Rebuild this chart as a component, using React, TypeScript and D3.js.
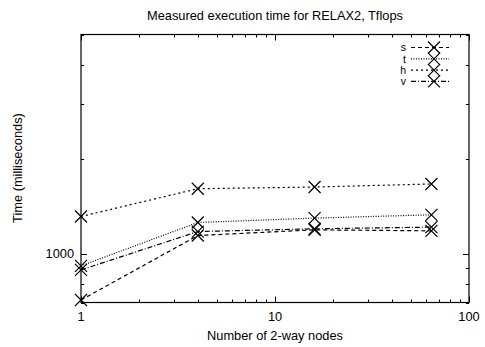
import React, { useEffect, useRef } from 'react';
import * as d3 from 'd3';

const nodes = [1, 4, 16, 64];
const seriesNames = ['s', 't', 'h', 'v'];
const sValues = [713, 1144, 1193, 1184];
const tValues = [916, 1259, 1300, 1332];
const hValues = [1316, 1613, 1633, 1670];
const vValues = [889, 1178, 1202, 1217];
const yTickLabels = [1000];
const yMinorTicks = [700, 800, 900, 2000, 3000, 4000, 5000];
const xTickLabels = [1, 10, 100];

const W = 485;
const H = 347;

const App = () => {
  const svgRef = useRef<SVGSVGElement>(null);

  useEffect(() => {
    const svg = d3.select(svgRef.current);
    svg.selectAll('*').remove();

    const left = 81, right = 469, top = 34.5, bottom = 302.5;
    const font = 'Liberation Sans, Arial, sans-serif';
    const fs = '12.8px';

    const x = d3.scaleLog().domain([1, 100]).range([left, right]);
    const y = d3.scaleLog().domain([700, 5000]).range([bottom, top]);

    const dashes = ['4,3', '1,1.5', '2,3', '5,2,1,2'];
    const data = [sValues, tValues, hValues, vValues];

    // ticks
    const xMinor: number[] = [];
    [1, 10].forEach(d => { for (let i = 2; i <= 9; i++) xMinor.push(d * i); });
    const g = svg.append('g').attr('stroke', '#000').attr('stroke-width', 1);
    xMinor.forEach(v => {
      const px = Math.round(x(v)) + 0.5;
      g.append('line').attr('x1', px).attr('x2', px).attr('y1', bottom).attr('y2', bottom - 3);
      g.append('line').attr('x1', px).attr('x2', px).attr('y1', top).attr('y2', top + 3);
    });
    xTickLabels.forEach(v => {
      const px = Math.round(x(v)) + 0.5;
      g.append('line').attr('x1', px).attr('x2', px).attr('y1', bottom).attr('y2', bottom - 6);
      g.append('line').attr('x1', px).attr('x2', px).attr('y1', top).attr('y2', top + 6);
    });
    yMinorTicks.forEach(v => {
      const py = Math.round(y(v)) + 0.5;
      g.append('line').attr('x1', left).attr('x2', left + 3).attr('y1', py).attr('y2', py);
      g.append('line').attr('x1', right).attr('x2', right - 3).attr('y1', py).attr('y2', py);
    });
    yTickLabels.forEach(v => {
      const py = Math.round(y(v)) + 0.5;
      g.append('line').attr('x1', left).attr('x2', left + 6).attr('y1', py).attr('y2', py);
      g.append('line').attr('x1', right).attr('x2', right - 6).attr('y1', py).attr('y2', py);
    });

    // frame
    svg.append('rect')
      .attr('x', left).attr('y', top)
      .attr('width', right - left).attr('height', bottom - top)
      .attr('fill', 'none').attr('stroke', '#000').attr('stroke-width', 1.2);

    // tick labels
    svg.selectAll('.xl').data(xTickLabels).enter().append('text')
      .attr('x', d => x(d)).attr('y', bottom + 18)
      .attr('text-anchor', 'middle').attr('fill', '#000')
      .style('font-family', font).style('font-size', fs)
      .text(d => d);
    svg.selectAll('.yl').data(yTickLabels).enter().append('text')
      .attr('x', left - 7).attr('y', d => y(d) + 4.5)
      .attr('text-anchor', 'end').attr('fill', '#000')
      .style('font-family', font).style('font-size', fs)
      .text(d => d);

    const line = d3.line<number>()
      .x((_, i) => x(nodes[i]))
      .y(d => y(d));

    const cross = (sel: any, cx: number, cy: number) => {
      const r = 6;
      sel.append('path')
        .attr('d', `M${cx - r},${cy - r}L${cx + r},${cy + r}M${cx - r},${cy + r}L${cx + r},${cy - r}`)
        .attr('stroke', '#000').attr('stroke-width', 1.2).attr('fill', 'none');
    };

    const plot = svg.append('g');
    data.forEach((vals, k) => {
      plot.append('path').datum(vals)
        .attr('d', line)
        .attr('fill', 'none').attr('stroke', '#000').attr('stroke-width', 1.2)
        .attr('stroke-dasharray', dashes[k]);
      vals.forEach((v, i) => cross(plot, x(nodes[i]), y(v)));
    });

    // legend
    const legend = svg.append('g');
    seriesNames.forEach((name, k) => {
      const ly = 47.5 + k * 11.3;
      legend.append('text')
        .attr('x', 406).attr('y', ly + 3.8)
        .attr('text-anchor', 'end').attr('fill', '#000')
        .style('font-family', font).style('font-size', '10.5px')
        .text(name);
      legend.append('line')
        .attr('x1', 411).attr('x2', 449).attr('y1', ly).attr('y2', ly)
        .attr('stroke', '#000').attr('stroke-width', 1.2)
        .attr('stroke-dasharray', dashes[k]);
      cross(legend, 434, ly);
    });

    // titles
    svg.append('text')
      .attr('x', 275).attr('y', 20)
      .attr('text-anchor', 'middle').attr('fill', '#000')
      .style('font-family', font).style('font-size', fs)
      .text('Measured execution time for RELAX2, Tflops');
    svg.append('text')
      .attr('x', 275).attr('y', 340)
      .attr('text-anchor', 'middle').attr('fill', '#000')
      .style('font-family', font).style('font-size', fs)
      .text('Number of 2-way nodes');
    svg.append('text')
      .attr('transform', `translate(22,168) rotate(-90)`)
      .attr('text-anchor', 'middle').attr('fill', '#000')
      .style('font-family', font).style('font-size', fs)
      .text('Time (milliseconds)');
  }, []);

  return (
    <svg
      ref={svgRef}
      width={W}
      height={H}
      style={{ position: 'absolute', left: 0, top: 0, background: '#fff' }}
    />
  );
};

export default App;
